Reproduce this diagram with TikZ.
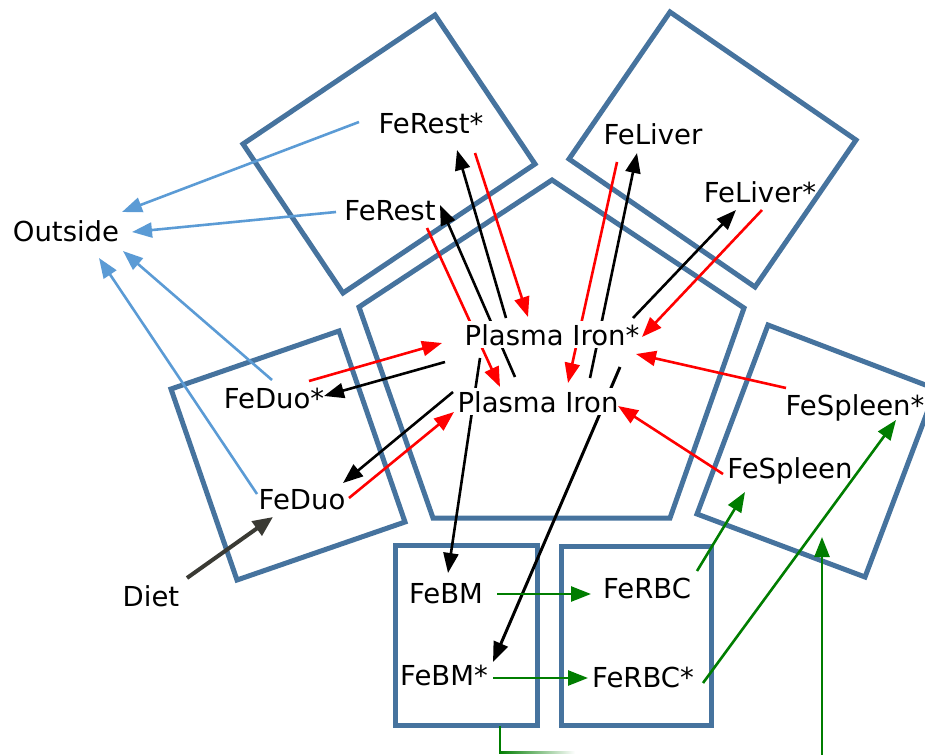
\documentclass[tikz,border=0pt]{standalone}
\usepackage{fontspec}
\setmainfont{DejaVu Sans}
\usetikzlibrary{arrows.meta,calc}
\pgfdeclarelayer{bg}
\pgfsetlayers{bg,main}
\definecolor{boxc}{RGB}{70,115,158}
\definecolor{bluec}{RGB}{91,155,213}
\definecolor{greenc}{RGB}{0,125,0}
\definecolor{dietc}{RGB}{58,58,52}
\begin{document}
\begin{tikzpicture}[x=1pt,y=-1pt,
  lbl/.style={anchor=base,inner xsep=0pt,inner ysep=3pt,font=\fontsize{27.5}{33}\selectfont},
  hide/.style={fill=white},
  comp/.style={draw=boxc,line width=5pt,line join=miter},
  arr/.style={line width=2.6pt,-{Triangle[length=20pt,width=15pt]}},
  blkarr/.style={arr,draw=black},
  redarr/.style={arr,draw=red,fill=red},
  bluarr/.style={arr,draw=bluec,fill=bluec},
  grnarr/.style={arr,draw=greenc,fill=greenc},
  dietarr/.style={line width=4pt,draw=dietc,-{Triangle[length=20pt,width=17pt]}}]
\useasboundingbox (0,0) rectangle (925,754);
\clip (0,0) rectangle (925,754);
% compartments
\begin{pgfonlayer}{bg}
\draw[comp] (435,15) -- (243,144) -- (343,293) -- (535,164) -- cycle;
\draw[comp] (670,12) -- (569,159) -- (755,287) -- (856,140) -- cycle;
\draw[comp] (552,180) -- (359,307) -- (433,518) -- (670,518) -- (744,308) -- cycle;
\draw[comp] (339,331) -- (171,389) -- (237,580) -- (405,522) -- cycle;
\draw[comp] (768,325) -- (697,514) -- (865,577) -- (936,389) -- cycle;
\draw[comp] (395,545) rectangle (537,725);
\draw[comp] (561,546) rectangle (711,725);
\end{pgfonlayer}
% labels
\node[lbl] (out) at (66,241) {Outside};
\node[lbl] (rests) at (431,134) {FeRest*};
\node[lbl] (rest) at (390,220) {FeRest};
\node[lbl] (liver) at (653,145) {FeLiver};
\node[lbl] (livers) at (760,202) {FeLiver*};
\node[lbl,hide] (pis) at (552,345) {Plasma Iron*};
\node[lbl,hide] (pi) at (538,412) {Plasma Iron};
\node[lbl] (duos) at (274,408) {FeDuo*};
\node[lbl] (duo) at (302,509) {FeDuo};
\node[lbl] (diet) at (151,606) {Diet};
\node[lbl] (spls) at (855,415) {FeSpleen*};
\node[lbl] (spl) at (790,478) {FeSpleen};
\node[lbl] (bm) at (446,603) {FeBM};
\node[lbl] (bms) at (444,685) {FeBM*};
\node[lbl] (rbc) at (647,598) {FeRBC};
\node[lbl] (rbcs) at (643,687) {FeRBC*};
% connectors passing under the plasma labels
\begin{pgfonlayer}{bg}
\draw[redarr] ($(rest.base)+(37,8)$) -- ($(pi.base)+(-38,-25)$);
\draw[blkarr] ($(pi.base)+(-23,-35)$) -- ($(rest.base)+(50,-15)$);
\draw[redarr] ($(liver.base)+(-36,17)$) -- ($(pi.base)+(30,-29)$);
\draw[blkarr] ($(pi.base)+(52,-34)$) -- ($(liver.base)+(-16,8)$);
\draw[blkarr] ($(pis.base)+(-72,13)$) -- ($(bm.base)+(2,-30)$);
\draw[blkarr,line width=3pt] ($(pis.base)+(68,22)$) -- ($(bms.base)+(49,-23)$);
\end{pgfonlayer}
% outflows
\draw[bluarr] ($(rests.base)+(-72,-12)$) -- ($(out.base)+(56,-29)$);
\draw[bluarr] ($(rest.base)+(-54,-8)$) -- ($(out.base)+(66,-9)$);
\draw[bluarr] ($(duos.base)+(-2,-28)$) -- ($(out.base)+(57,10)$);
\draw[bluarr] ($(duo.base)+(-45,-15)$) -- ($(out.base)+(33,17)$);
% red returns
\draw[redarr] ($(rests.base)+(44,19)$) -- ($(pis.base)+(-24,-28)$);
\draw[redarr] ($(livers.base)+(2,8)$) -- ($(pis.base)+(90,-8)$);
\draw[redarr] ($(duos.base)+(35,-27)$) -- ($(pis.base)+(-110,-2)$);
\draw[redarr] ($(duo.base)+(47,-11)$) -- ($(pi.base)+(-84,0)$);
\draw[redarr] ($(spls.base)+(-69,-27)$) -- ($(pis.base)+(84,9)$);
\draw[redarr] ($(spl.base)+(-67,-4)$) -- ($(pi.base)+(80,-6)$);
% black deliveries
\draw[blkarr] ($(pis.base)+(-46,-27)$) -- ($(rests.base)+(26,16)$);
\draw[blkarr] ($(pis.base)+(81,-27)$) -- ($(livers.base)+(-24,8)$);
\draw[blkarr] ($(pis.base)+(-107,17)$) -- ($(duos.base)+(50,-12)$);
\draw[blkarr] ($(pi.base)+(-85,-20)$) -- ($(duo.base)+(41,-26)$);
% diet
\draw[dietarr] ($(diet.base)+(36,-28)$) -- ($(duo.base)+(-29,8)$);
% green flows
\draw[grnarr] ($(bm.base)+(51,-9)$) -- ($(rbc.base)+(-56,-4)$);
\draw[grnarr] ($(bms.base)+(49,-7)$) -- ($(rbcs.base)+(-55,-9)$);
\draw[grnarr] ($(rbc.base)+(50,-27)$) -- ($(spl.base)+(-45,14)$);
\draw[grnarr] ($(rbcs.base)+(60,-4)$) -- ($(spls.base)+(41,5)$);
\coordinate (upfoot) at (822,756);
\coordinate (uptip) at (822,537);
\draw[grnarr] (upfoot) -- (uptip);
\coordinate (bmfoot) at (500,726);
\coordinate (bmturn) at (500,752);
\draw[greenc,line width=2.6pt] (bmfoot) -- (bmturn);
\shade[left color=greenc,right color=white] (499,751) rectangle (575,753);
\end{tikzpicture}
\end{document}
